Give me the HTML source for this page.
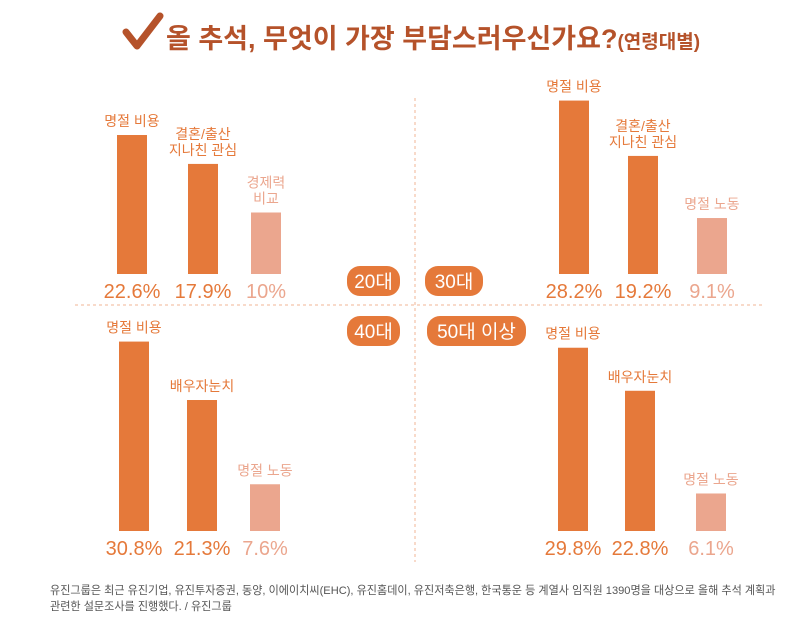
<!DOCTYPE html>
<html><head><meta charset="utf-8"><style>
html,body{margin:0;padding:0;background:#fff;}
body{width:808px;height:625px;overflow:hidden;font-family:"Liberation Sans","Noto Sans CJK KR",sans-serif;}
svg text{font-family:"Liberation Sans","Noto Sans CJK KR",sans-serif;}
</style></head><body>
<svg id="chart" width="808" height="625" viewBox="0 0 808 625">
  <g>
    <path d="M126 32 L137 46 L160 16" fill="none" stroke="#B5522A" stroke-width="7" stroke-linecap="round" stroke-linejoin="round"/>
    <text x="166" y="48" font-size="27" font-weight="bold" fill="#B5522A">올 추석, 무엇이 가장 부담스러우신가요?<tspan font-size="19">(연령대별)</tspan></text>
  </g>
  <line x1="415" y1="98" x2="415" y2="562" stroke="#F0B494" stroke-dasharray="3,3"/>
  <line x1="75" y1="305" x2="765" y2="305" stroke="#F0B494" stroke-dasharray="3,3"/>
  <g id="marks"></g>
  <text x="50" y="594" font-size="11.1" fill="#555">유진그룹은 최근 유진기업, 유진투자증권, 동양, 이에이치씨(EHC), 유진홈데이, 유진저축은행, 한국통운 등 계열사 임직원 1390명을 대상으로 올해 추석 계획과</text>
  <text x="50" y="610" font-size="11.1" fill="#555">관련한 설문조사를 진행했다. / 유진그룹</text>
</svg>
<script>
const groups = ["20대","30대","40대","50대 이상"];
const labels20 = [["명절 비용"],["결혼/출산","지나친 관심"],["경제력","비교"]];
const values20 = [22.6,17.9,10];
const valueText20 = ["22.6%","17.9%","10%"];
const labels30 = [["명절 비용"],["결혼/출산","지나친 관심"],["명절 노동"]];
const values30 = [28.2,19.2,9.1];
const valueText30 = ["28.2%","19.2%","9.1%"];
const labels40 = [["명절 비용"],["배우자눈치"],["명절 노동"]];
const values40 = [30.8,21.3,7.6];
const valueText40 = ["30.8%","21.3%","7.6%"];
const labels50 = [["명절 비용"],["배우자눈치"],["명절 노동"]];
const values50 = [29.8,22.8,6.1];
const valueText50 = ["29.8%","22.8%","6.1%"];

const NS="http://www.w3.org/2000/svg";
const g=document.getElementById('marks');
const PX=6.15;
function yScale(base,v){return base - v*PX;}
const panels=[
 {lab:labels20,val:values20,txt:valueText20,xs:[117,188,251],base:274,ty:298,badge:[347,266,53]},
 {lab:labels30,val:values30,txt:valueText30,xs:[559,628,697],base:274,ty:298,badge:[425,266,58]},
 {lab:labels40,val:values40,txt:valueText40,xs:[119,187,250],base:531,ty:555,badge:[347,316,53]},
 {lab:labels50,val:values50,txt:valueText50,xs:[558,625,696],base:531,ty:555,badge:[427,316,99]}
];
const W=30;
panels.forEach((p,pi)=>{
  p.val.forEach((v,i)=>{
    const light=i===2;
    const col=light?'#EBA68E':'#E5793A';
    const top=yScale(p.base,v);
    const r=document.createElementNS(NS,'rect');
    
    
    r.setAttribute('x',p.xs[i]);r.setAttribute('y',top);
    r.setAttribute('width',W);r.setAttribute('height',p.base-top);
    r.setAttribute('fill',col);
    g.appendChild(r);
    const cx=p.xs[i]+W/2;
    const vt=document.createElementNS(NS,'text');
    
    
    vt.setAttribute('x',cx);vt.setAttribute('y',p.ty);
    vt.setAttribute('text-anchor','middle');vt.setAttribute('font-size','20');
    vt.setAttribute('fill',col);vt.textContent=p.txt[i];
    g.appendChild(vt);
    const lines=p.lab[i];
    lines.forEach((ln,li)=>{
      const t=document.createElementNS(NS,'text');
      
      
      t.setAttribute('x',cx);
      t.setAttribute('y',top-9-(lines.length-1-li)*16);
      t.setAttribute('text-anchor','middle');t.setAttribute('font-size','14');
      t.setAttribute('fill',col);t.textContent=ln;
      g.appendChild(t);
    });
  });
  const [bx,by,bw]=p.badge;
  const b=document.createElementNS(NS,'rect');
  
  
  b.setAttribute('x',bx);b.setAttribute('y',by);b.setAttribute('width',bw);b.setAttribute('height',30);
  b.setAttribute('rx',13);b.setAttribute('fill','#E5793A');
  g.appendChild(b);
  const bt=document.createElementNS(NS,'text');
  
  
  bt.setAttribute('x',bx+bw/2);bt.setAttribute('y',by+22);
  bt.setAttribute('text-anchor','middle');bt.setAttribute('font-size','19');
  bt.setAttribute('fill','#fff');bt.textContent=groups[pi];
  g.appendChild(bt);
});
</script>
</body></html>
